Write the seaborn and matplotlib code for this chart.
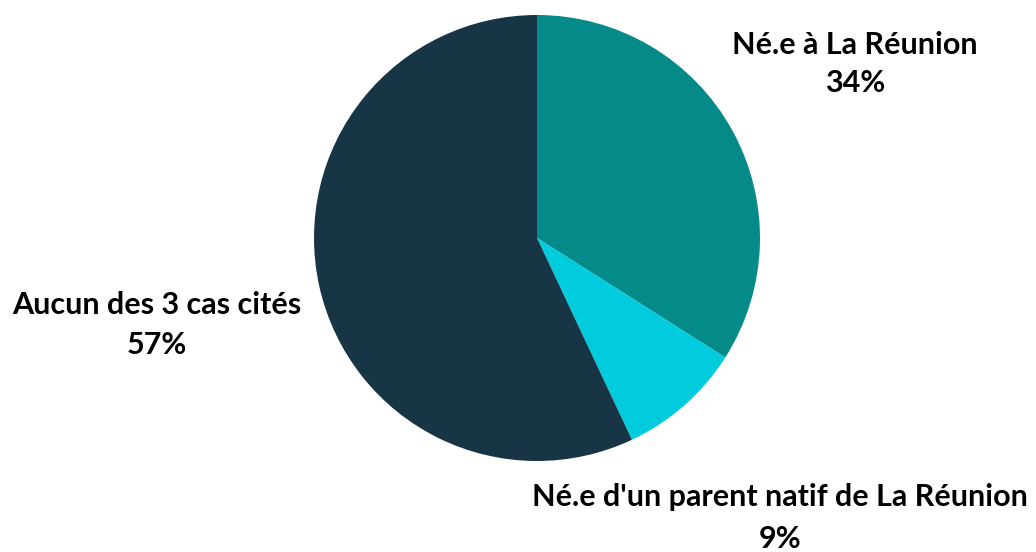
import matplotlib
matplotlib.use("Agg")
import matplotlib.pyplot as plt
import seaborn as sns

# Données
categories = ["Né.e à La Réunion", "Né.e d'un parent natif de La Réunion", "Aucun des 3 cas cités"]
values = [34, 9, 57]
colors = ["#058A8A", "#00CCDD", "#183545"]

# Positions des étiquettes (pixels, origine en haut à gauche)
label_pos = [(855, 64), (780, 518), (157, 325)]
label_spacing = [1.45, 1.65, 1.5]

sns.set_theme(style="white")
plt.rcParams['font.family'] = ['Lato', 'DejaVu Sans']

W, H = 1036, 552
fig = plt.figure(figsize=(W / 100, H / 100), dpi=100)
ax = fig.add_axes([0, 0, 1, 1])

ax.pie(values, colors=colors, startangle=90, counterclock=False,
       center=(537, H - 238), radius=223, frame=True,
       wedgeprops=dict(linewidth=0))
ax.set_xlim(0, W)
ax.set_ylim(0, H)
ax.set_aspect("equal")
ax.axis("off")

for cat, val, (x, y), ls in zip(categories, values, label_pos, label_spacing):
    ax.text(x, H - y, f"{cat}\n{val}%", ha="center", va="center",
            fontsize=22, fontweight="bold", color="black", linespacing=ls)

fig.savefig("out.png", dpi=100, facecolor="white")
